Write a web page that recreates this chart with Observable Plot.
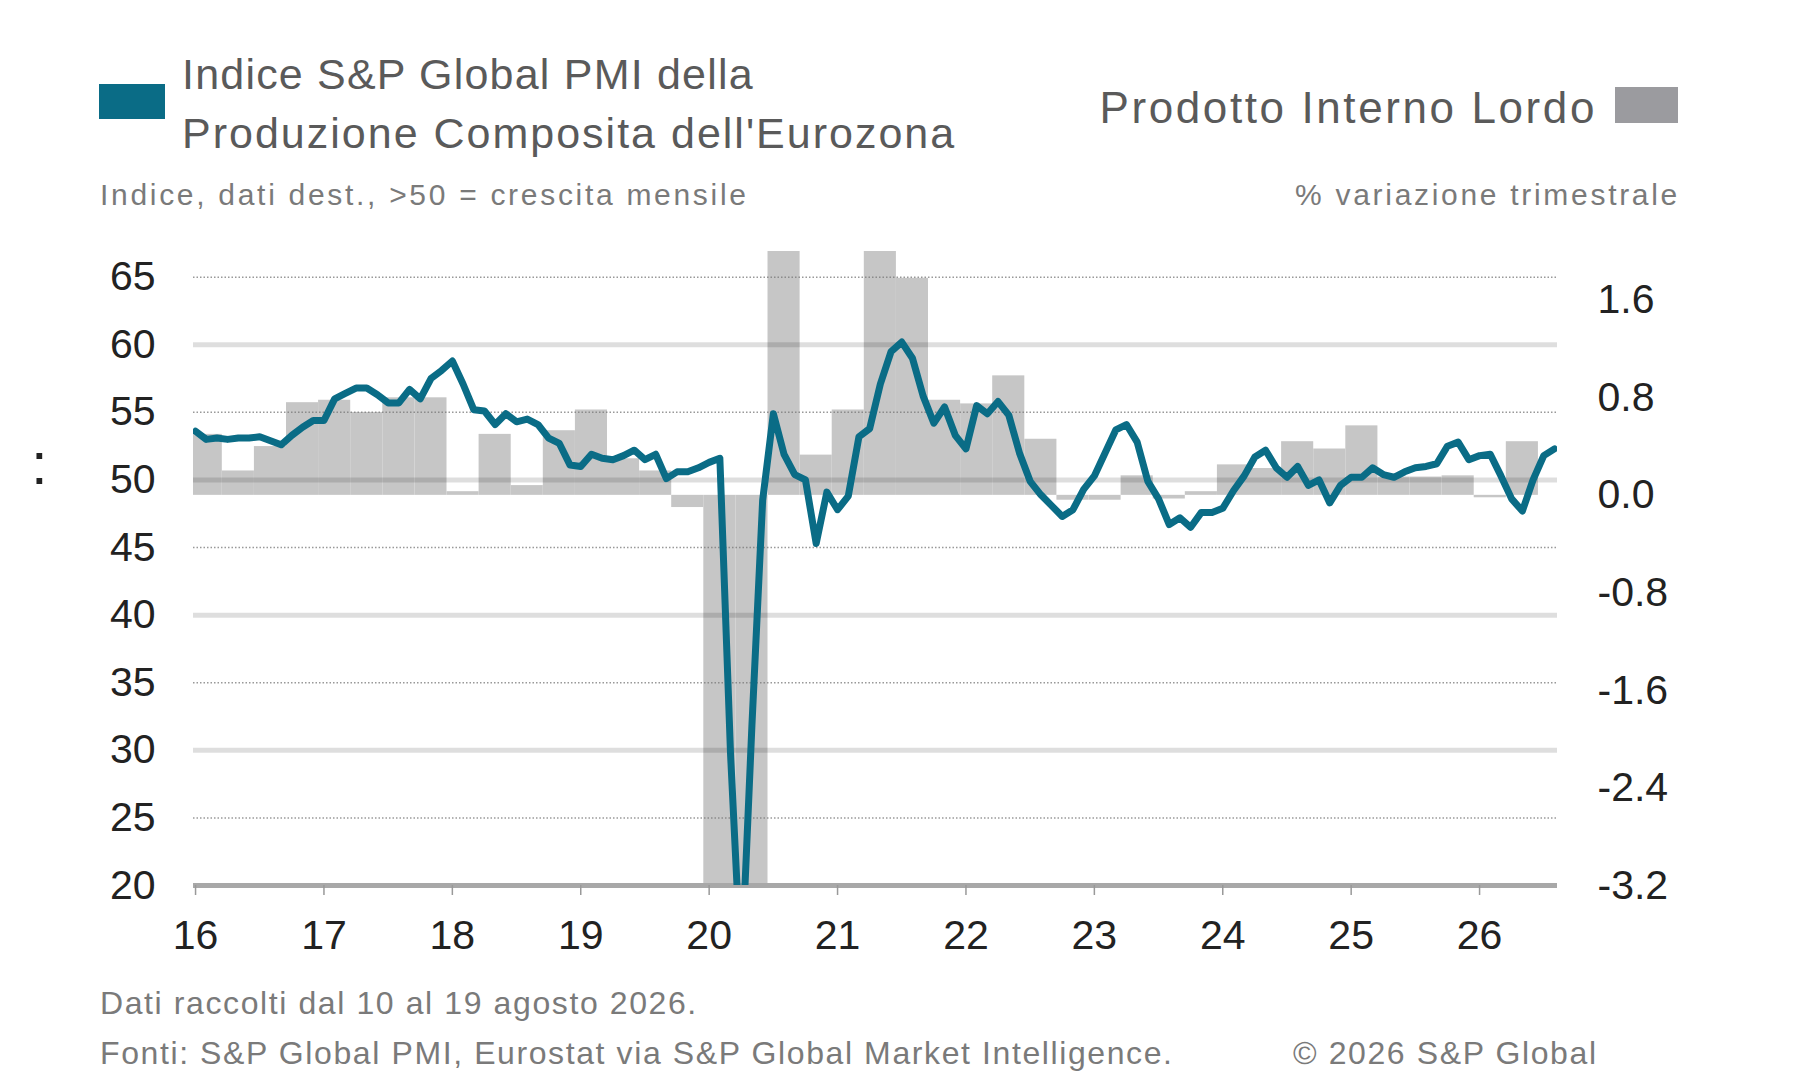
<!DOCTYPE html>
<html><head><meta charset="utf-8">
<script src="https://cdn.jsdelivr.net/npm/d3@7"></script>
<script src="https://cdn.jsdelivr.net/npm/@observablehq/plot@0.6"></script>
<style>
body{margin:0;background:#fff;}
#c{position:relative;width:1800px;height:1080px;background:#fff;font-family:"Liberation Sans",Arial,sans-serif;overflow:hidden}
.t{position:absolute;white-space:nowrap;line-height:1}
#plot{position:absolute;left:0;top:230px}
</style></head><body>
<div id="c">
  <div class="t" style="left:99px;top:84px;width:66px;height:35px;background:#0a6c86"></div>
  <div class="t" style="left:182px;top:53px;font-size:43px;letter-spacing:1.2px;color:#5a5a5a">Indice S&amp;P Global PMI della</div>
  <div class="t" style="left:182px;top:112px;font-size:43px;letter-spacing:2px;color:#5a5a5a">Produzione Composita dell'Eurozona</div>
  <div class="t" style="right:203px;top:86px;font-size:44px;letter-spacing:2.6px;color:#5a5a5a">Prodotto Interno Lordo</div>
  <div class="t" style="left:1615px;top:87px;width:63px;height:36px;background:#9b9b9f"></div>
  <div class="t" style="left:100px;top:180px;font-size:30px;letter-spacing:2.7px;color:#7a7a7a">Indice, dati dest., &gt;50 = crescita mensile</div>
  <div class="t" style="right:120px;top:180px;font-size:30px;letter-spacing:2.7px;color:#7a7a7a">% variazione trimestrale</div>
  <div class="t" style="left:31px;top:434px;font-size:60px;color:#222">:</div>
  <div class="t" style="left:100px;top:987px;font-size:32px;letter-spacing:1.6px;color:#7a7a7a">Dati raccolti dal 10 al 19 agosto 2026.</div>
  <div class="t" style="left:100px;top:1037px;font-size:32px;letter-spacing:1.6px;color:#7a7a7a">Fonti: S&amp;P Global PMI, Eurostat via S&amp;P Global Market Intelligence.</div>
  <div class="t" style="left:1293px;top:1037px;font-size:32px;letter-spacing:1.6px;color:#7a7a7a">© 2026 S&amp;P Global</div>
  <div id="plot"></div>
</div>
<script>
// PMI composito Eurozona, mensile (gen 2016 - ago 2026)
const pmi2016 = [53.6,53.0,53.1,53.0,53.1,53.1,53.2,52.9,52.6,53.3,53.9,54.4];
const pmi2017 = [54.4,56.0,56.4,56.8,56.8,56.3,55.7,55.7,56.7,56.0,57.5,58.1];
const pmi2018 = [58.8,57.1,55.2,55.1,54.1,54.9,54.3,54.5,54.1,53.1,52.7,51.1];
const pmi2019 = [51.0,51.9,51.6,51.5,51.8,52.2,51.5,51.9,50.1,50.6,50.6,50.9];
const pmi2020 = [51.3,51.6,29.7,13.6,31.9,48.5,54.9,51.9,50.4,50.0,45.3,49.1];
const pmi2021 = [47.8,48.8,53.2,53.8,57.1,59.5,60.2,59.0,56.2,54.2,55.4,53.3];
const pmi2022 = [52.3,55.5,54.9,55.8,54.8,52.0,49.9,48.9,48.1,47.3,47.8,49.3];
const pmi2023 = [50.3,52.0,53.7,54.1,52.8,49.9,48.6,46.7,47.2,46.5,47.6,47.6];
const pmi2024 = [47.9,49.2,50.3,51.7,52.2,50.9,50.2,51.0,49.6,50.0,48.3,49.6];
const pmi2025 = [50.2,50.2,50.9,50.4,50.2,50.6,50.9,51.0,51.2,52.5,52.8,51.5];
const pmi2026 = [51.8,51.9,50.3,48.6,47.7,50.0,51.8,52.3];

// PIL, % variazione trimestrale (T1 2016 - T2 2026)
const gdp2016 = [0.5, 0.2, 0.4, 0.76];
const gdp2017 = [0.78, 0.68, 0.8, 0.8];
const gdp2018 = [0.03, 0.5, 0.08, 0.53];
const gdp2019 = [0.7, 0.3, 0.2, -0.1];
const gdp2020 = [-3.7, -11.1, 12.4, 0.33];
const gdp2021 = [0.7, 2.2, 1.78, 0.78];
const gdp2022 = [0.75, 0.98, 0.46, -0.04];
const gdp2023 = [-0.04, 0.16, -0.03, 0.03];
const gdp2024 = [0.25, 0.22, 0.44, 0.38];
const gdp2025 = [0.57, 0.15, 0.15, 0.16];
const gdp2026 = [-0.02, 0.44];

const yearTicks = [2016,2017,2018,2019,2020,2021,2022,2023,2024,2025,2026];
const leftTicks = [20,25,30,35,40,45,50,55,60,65];
const solidGrid = [30,40,50,60];
const dottedGrid = [25,35,45,55,65];
const rightTicks = [-3.2,-2.4,-1.6,-0.8,0,0.8,1.6];
const rightLabels = ["-3.2","-2.4","-1.6","-0.8","0.0","0.8","1.6"];

// dual axis: left [20, 66.9] <-> right [-3.2, 2.0]
const L0 = 20, L1 = 66.9, R0 = -3.2, R1 = 2.0;
const conv = r => L0 + (r - R0) * (L1 - L0) / (R1 - R0);

const pmiValues = [].concat(pmi2016,pmi2017,pmi2018,pmi2019,pmi2020,pmi2021,pmi2022,pmi2023,pmi2024,pmi2025,pmi2026);
const gdpValues = [].concat(gdp2016,gdp2017,gdp2018,gdp2019,gdp2020,gdp2021,gdp2022,gdp2023,gdp2024,gdp2025,gdp2026);

const pmiRows = pmiValues.map((v, i) => ({t: 2016 + i / 12, v}));
const gdpRows = gdpValues.map((v, i) => ({
  x1: 2016 + (3 * i - 0.5) / 12,
  x2: 2016 + (3 * i + 2.5) / 12,
  y1: conv(0),
  y2: conv(v)
}));

const chart = Plot.plot({
  width: 1800,
  height: 745,
  marginTop: 21,
  marginBottom: 90,
  marginLeft: 193,
  marginRight: 243,
  style: {fontFamily: '"Liberation Sans", Arial, sans-serif', fontSize: "41px", color: "#222", background: "transparent", overflow: "visible"},
  x: {type: "linear", domain: [2015.984, 2026.607], label: null},
  y: {domain: [L0, L1], label: null},
  marks: [
    Plot.rect(gdpRows, {x1: "x1", x2: "x2", y1: "y1", y2: "y2", fill: "#c6c6c6", clip: true}),
    Plot.ruleY(solidGrid, {y: d => d, stroke: "#000", strokeOpacity: 0.13, strokeWidth: 5}),
    Plot.ruleY(dottedGrid, {y: d => d, stroke: "#777", strokeOpacity: 0.75, strokeWidth: 1.5, strokeDasharray: "1.5,2"}),
    Plot.ruleY([20], {y: d => d, stroke: "#a8a8a8", strokeWidth: 5}),
    Plot.line(pmiRows, {x: "t", y: "v", stroke: "#0a6c86", strokeWidth: 7, strokeLinejoin: "round", strokeLinecap: "round", clip: true}),
    Plot.axisX(yearTicks, {anchor: "bottom", tickSize: 10, tickPadding: 24, stroke: "#999", strokeWidth: 1.5, fill: "#222", tickFormat: d => String(d).slice(2), label: null}),
    Plot.axisY(leftTicks, {anchor: "left", tickSize: 0, tickPadding: 38, fill: "#222", tickFormat: d => String(d), label: null}),
    Plot.axisY(rightTicks.map(conv), {anchor: "right", tickSize: 0, tickPadding: 40, fill: "#222", tickFormat: (d, i) => rightLabels[i], label: null})
  ]
});
document.getElementById("plot").appendChild(chart);
</script>
</body></html>
